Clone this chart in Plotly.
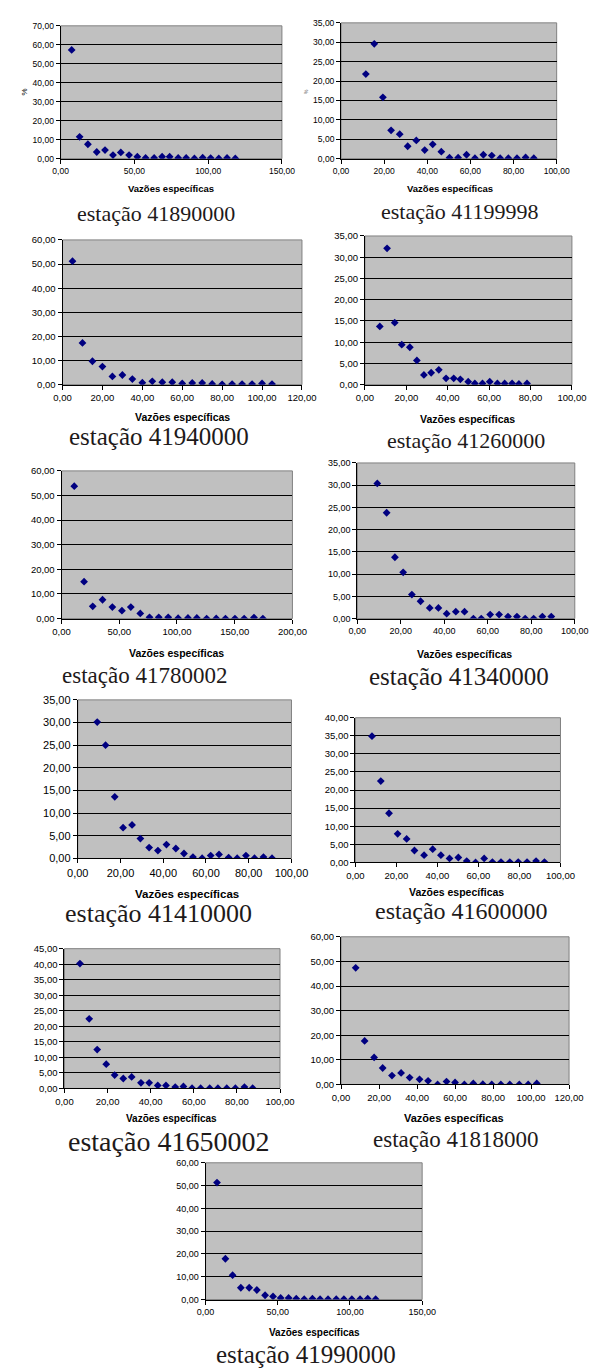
import plotly.graph_objects as go

# ---------------- data ----------------
stations = ["41890000", "41199998", "41940000", "41260000", "41780002", "41340000",
            "41410000", "41600000", "41650002", "41818000", "41990000"]

x_41890000 = [7.5, 12.9, 18.5, 24.5, 30.1, 35.5, 40.8, 46.4, 52.0, 57.6, 63.4, 68.8, 73.9, 79.7, 85.1, 90.7, 96.3, 101.7, 107.2, 112.8, 118.4]
y_41890000 = [57.3, 11.5, 7.6, 3.5, 4.5, 1.9, 3.3, 1.9, 1.0, 0.35, 0.4, 1.0, 1.0, 0.4, 0.4, 0.1, 0.5, 0.3, 0.1, 0.4, 0.1]

x_41199998 = [11.5, 15.4, 19.4, 23.2, 27.2, 30.9, 34.9, 38.8, 42.5, 46.5, 50.3, 54.3, 58.2, 62.1, 66.0, 69.9, 73.8, 77.6, 81.6, 85.6, 89.4]
y_41199998 = [21.8, 29.6, 15.8, 7.3, 6.3, 3.2, 4.7, 2.2, 3.7, 1.8, 0.25, 0.25, 1.0, 0.1, 1.0, 0.8, 0.1, 0.1, 0.1, 0.3, 0.1]

x_41940000 = [5.0, 10.0, 15.0, 20.0, 25.0, 30.0, 35.0, 40.0, 45.0, 50.0, 55.0, 60.0, 65.0, 70.0, 75.0, 80.0, 85.0, 90.0, 95.0, 100.0, 105.0]
y_41940000 = [51.2, 17.3, 9.7, 7.5, 3.4, 4.0, 2.3, 0.8, 1.4, 1.0, 1.0, 0.5, 0.7, 0.7, 0.3, 0.15, 0.25, 0.25, 0.25, 0.5, 0.25]

x_41260000 = [7.2, 10.7, 14.4, 17.8, 21.7, 25.1, 28.5, 32.0, 35.7, 39.2, 42.9, 46.1, 49.9, 53.1, 56.8, 60.3, 64.0, 67.5, 71.1, 74.4, 78.3]
y_41260000 = [13.7, 32.1, 14.6, 9.4, 8.8, 5.7, 2.3, 2.8, 3.5, 1.5, 1.5, 1.25, 0.7, 0.3, 0.3, 0.7, 0.3, 0.3, 0.3, 0.15, 0.3]

x_41780002 = [11.0, 19.5, 27.0, 35.5, 44.0, 52.3, 60.0, 68.2, 76.2, 84.2, 92.4, 101.0, 109.5, 117.2, 125.7, 134.0, 142.0, 150.2, 158.2, 166.7, 174.4]
y_41780002 = [53.8, 15.0, 5.0, 7.65, 4.7, 3.2, 4.7, 2.1, 0.5, 0.5, 0.5, 0.15, 0.25, 0.25, 0.0, 0.05, 0.0, 0.0, 0.0, 0.4, 0.0]

x_41340000 = [9.2, 13.5, 17.3, 21.1, 25.1, 29.1, 33.3, 37.3, 41.1, 45.3, 49.3, 53.4, 57.0, 61.1, 65.2, 69.3, 73.4, 77.2, 81.1, 85.1, 89.2]
y_41340000 = [30.4, 23.8, 13.8, 10.4, 5.4, 3.9, 2.4, 2.4, 1.1, 1.55, 1.55, 0.0, 0.0, 0.9, 0.9, 0.45, 0.45, 0.0, 0.0, 0.45, 0.45]

x_41410000 = [9.1, 13.0, 17.3, 21.2, 25.4, 29.3, 33.4, 37.5, 41.5, 45.9, 49.7, 53.9, 58.2, 62.2, 66.1, 70.6, 74.6, 78.7, 82.7, 86.9, 90.9]
y_41410000 = [30.1, 25.0, 13.6, 6.8, 7.4, 4.4, 2.4, 1.75, 3.06, 2.2, 1.1, 0.3, 0.07, 0.65, 0.9, 0.2, 0.07, 0.65, 0.07, 0.3, 0.07]

x_41600000 = [8.1, 12.4, 16.4, 20.6, 25.0, 28.8, 33.5, 37.7, 41.7, 45.9, 50.2, 54.3, 58.6, 62.8, 66.8, 71.0, 75.3, 79.4, 83.7, 88.1, 92.2]
y_41600000 = [34.9, 22.5, 13.6, 7.9, 6.5, 3.3, 2.0, 3.66, 2.0, 1.1, 1.37, 0.37, 0.0, 1.1, 0.1, 0.1, 0.1, 0.1, 0.1, 0.37, 0.1]

x_41650002 = [7.2, 11.5, 15.2, 19.4, 23.3, 27.3, 31.2, 35.5, 39.3, 43.3, 47.1, 51.4, 55.2, 59.2, 63.2, 67.4, 71.2, 75.3, 79.3, 83.5, 87.3]
y_41650002 = [40.2, 22.4, 12.5, 7.8, 4.3, 3.2, 3.7, 1.8, 1.8, 0.96, 0.96, 0.43, 0.64, 0.1, 0.1, 0.1, 0.1, 0.1, 0.1, 0.43, 0.1]

x_41818000 = [7.7, 12.4, 17.4, 21.9, 26.8, 31.6, 36.1, 41.3, 45.8, 50.8, 55.5, 60.0, 64.9, 69.6, 74.6, 79.3, 84.1, 88.8, 93.8, 98.5, 103.0]
y_41818000 = [47.4, 17.7, 11.0, 6.7, 3.6, 4.7, 2.8, 2.1, 1.5, 0.0, 1.2, 0.8, 0.0, 0.4, 0.13, 0.0, 0.0, 0.0, 0.0, 0.0, 0.4]

x_41990000 = [7.9, 13.7, 18.7, 24.4, 30.2, 35.5, 41.2, 46.7, 52.0, 57.5, 62.8, 68.3, 74.0, 79.3, 84.8, 90.5, 95.8, 101.3, 107.0, 112.3, 117.8]
y_41990000 = [51.3, 17.9, 10.7, 5.2, 5.2, 4.2, 1.9, 1.4, 0.7, 0.7, 0.4, 0.14, 0.4, 0.14, 0.14, 0.14, 0.14, 0.14, 0.14, 0.4, 0.14]

x_max = [150, 100, 120, 100, 200, 100, 100, 100, 100, 120, 150]
x_step = [50, 20, 20, 20, 50, 20, 20, 20, 20, 20, 50]
y_max = [70, 35, 60, 35, 60, 35, 35, 40, 45, 60, 60]
y_step = [10, 5, 10, 5, 10, 5, 5, 5, 5, 10, 10]

x_title = "Vazões específicas"
y_title = "%"
title_prefix = "estação "

series_x = [x_41890000, x_41199998, x_41940000, x_41260000, x_41780002, x_41340000,
            x_41410000, x_41600000, x_41650002, x_41818000, x_41990000]
series_y = [y_41890000, y_41199998, y_41940000, y_41260000, y_41780002, y_41340000,
            y_41410000, y_41600000, y_41650002, y_41818000, y_41990000]

# ---------------- layout (pixel geometry of each panel) ----------------
W, H = 608, 1372
SANS = "Liberation Sans"
SERIF = "Liberation Serif"
# plot box: left, right, top, bottom ; tick font ; x-title centre/y/size ; station title centre/y/size
panels = [
    dict(box=(52, 284, 20, 154), tf=8.5, xt=(168, 184, 9.5), st=(152, 209, 22)),
    dict(box=(346, 572, 17, 154), tf=8.5, xt=(460, 184, 9.5), st=(470, 207, 22)),
    dict(box=(54, 305, 236, 382), tf=9.5, xt=(180, 415, 10.5), st=(155, 434, 25)),
    dict(box=(371, 588, 232, 382), tf=9.5, xt=(479, 417, 10.5), st=(477, 438, 22)),
    dict(box=(53, 295, 469, 618), tf=9.5, xt=(173, 653, 10.5), st=(140, 675, 23)),
    dict(box=(363, 591, 461, 618), tf=9.0, xt=(475, 654, 10.5), st=(470, 676, 25)),
    dict(box=(70, 294, 700, 860), tf=11, xt=(185, 896, 11.5), st=(155, 916, 26)),
    dict(box=(361, 576, 718, 864), tf=9.5, xt=(467, 894, 10.5), st=(472, 913, 24)),
    dict(box=(56, 282, 951, 1092), tf=9.5, xt=(168, 1122, 10), st=(165, 1146, 28)),
    dict(box=(346, 585, 939, 1088), tf=9.5, xt=(464, 1122, 11), st=(466, 1143, 23)),
    dict(box=(204, 431, 1167, 1305), tf=9.0, xt=(318, 1338, 10), st=(309, 1360, 25)),
]

fig = go.Figure()
annotations = []
shapes = []
layout_axes = {}

for i, p in enumerate(panels):
    k = "" if i == 0 else str(i + 1)
    l, r, t, b = p["box"]
    fig.add_trace(go.Scatter(
        x=series_x[i], y=series_y[i], mode="markers",
        marker=dict(symbol="diamond", size=6, color="#000080",
                    line=dict(width=0)),
        xaxis="x" + k, yaxis="y" + k, showlegend=False, hoverinfo="x+y"))
    tickfont = dict(family=SANS, size=p["tf"], color="#000000")
    layout_axes["xaxis" + k] = dict(
        domain=[l / W, r / W], anchor="y" + k, range=[0, x_max[i]],
        tick0=0, dtick=x_step[i], tickformat=".2f", ticks="outside", ticklen=4,
        tickcolor="#000000", tickwidth=1, showline=True, linecolor="#000000",
        linewidth=1, showgrid=False, zeroline=False, tickfont=tickfont,
        fixedrange=True)
    layout_axes["yaxis" + k] = dict(
        domain=[1 - b / H, 1 - t / H], anchor="x" + k, range=[0, y_max[i]],
        tick0=0, dtick=y_step[i], tickformat=".2f", ticks="outside", ticklen=4,
        tickcolor="#000000", tickwidth=1, showline=True, linecolor="#000000",
        linewidth=1, showgrid=True, gridcolor="#000000", gridwidth=1,
        zeroline=False, tickfont=tickfont, fixedrange=True)
    # grey plot-area frame (top/right edges)
    shapes.append(dict(type="rect", xref="x" + k + " domain", yref="y" + k + " domain",
                       x0=0, x1=1, y0=0, y1=1, line=dict(color="#808080", width=1),
                       fillcolor="rgba(0,0,0,0)", layer="below"))
    # x-axis title
    xc, yc, fs = p["xt"]
    annotations.append(dict(text="<b>" + x_title + "</b>", x=xc / W, y=1 - yc / H,
                            xref="paper", yref="paper", showarrow=False,
                            xanchor="center", yanchor="middle",
                            font=dict(family=SANS, size=fs, color="#000000")))
    # station caption
    sc, sy, ss = p["st"]
    annotations.append(dict(text=title_prefix + stations[i], x=sc / W, y=1 - sy / H,
                            xref="paper", yref="paper", showarrow=False,
                            xanchor="center", yanchor="middle",
                            font=dict(family=SERIF, size=ss, color="#1e1a1a")))

# y-axis titles ("%") on the first two panels
annotations.append(dict(text=y_title, x=14 / W, y=1 - 87 / H, xref="paper", yref="paper",
                        showarrow=False, textangle=-90, xanchor="center", yanchor="middle",
                        font=dict(family=SANS, size=8, color="#000000")))
annotations.append(dict(text=y_title, x=309 / W, y=1 - 86 / H, xref="paper", yref="paper",
                        showarrow=False, textangle=-90, xanchor="center", yanchor="middle",
                        font=dict(family=SANS, size=5, color="#444444")))

fig.update_layout(
    width=W, height=H, autosize=False,
    margin=dict(l=0, r=0, t=0, b=0, pad=0),
    paper_bgcolor="#FFFFFF", plot_bgcolor="#C0C0C0",
    separators=",.",
    showlegend=False,
    annotations=annotations, shapes=shapes,
    **layout_axes)

fig.write_html("out.html", config={"displayModeBar": False},
               post_script="document.body.style.margin='0';document.body.style.overflow='hidden';")
